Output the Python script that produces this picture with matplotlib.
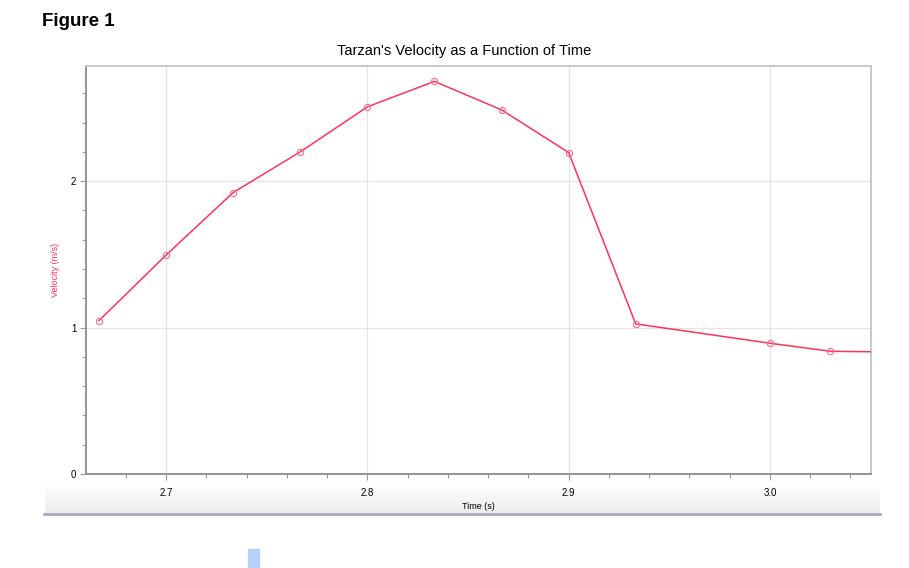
import matplotlib.pyplot as plt
import matplotlib.patches as patches
from matplotlib.lines import Line2D
from matplotlib.colors import LinearSegmentedColormap
from matplotlib.ticker import MultipleLocator
import numpy as np

plt.rcParams['font.family'] = ['Liberation Sans', 'DejaVu Sans']

# Data (time in s, velocity in m/s)
time_s = [2.6667, 2.7, 2.7333, 2.7667, 2.8, 2.8333, 2.8667, 2.9, 2.9333, 3.0, 3.03, 3.0667]
velocity = [1.048, 1.495, 1.922, 2.200, 2.507, 2.681, 2.486, 2.195, 1.025, 0.893, 0.838, 0.832]

x_ticks = [2.7, 2.8, 2.9, 3.0]
x_tick_labels = ["2.7", "2.8", "2.9", "3.0"]
y_ticks = [0, 1, 2]

W, H = 909, 568
fig = plt.figure(figsize=(W / 100, H / 100), dpi=100)
fig.patch.set_facecolor("white")

# Page decoration: heading, light gray band and divider below the chart
fig.text(42 / W, 1 - 22 / H, "Figure 1", fontsize=13.5, fontweight="bold",
         va="center", ha="left")

band = fig.add_axes([45 / W, 1 - 513 / H, (880 - 45) / W, 30 / H], zorder=0)
band_cmap = LinearSegmentedColormap.from_list("band", ["#ffffff", "#ededed"])
grad = np.linspace(0, 1, 50).reshape(-1, 1)
band.imshow(grad, aspect="auto", cmap=band_cmap, extent=[0, 1, 0, 1])
band.set_axis_off()
fig.add_artist(Line2D([44 / W, 880 / W], [1 - 514 / H, 1 - 514 / H],
                      color="#a9a9bf", lw=2, transform=fig.transFigure))
fig.add_artist(patches.Rectangle((248 / W, 0), 11 / W, 19 / H,
                                 color="#b9d1f9", transform=fig.transFigure))

# Chart
ax = fig.add_axes([86 / W, 1 - 474 / H, (871 - 86) / W, (474 - 65.7) / H], zorder=1)
ax.patch.set_alpha(0)
ax.plot(time_s, velocity, color="#ff3358", lw=1.1, zorder=3)
ax.plot(time_s, velocity, ls="none", marker="o", ms=4.5, mfc="none",
        mec="#ff6f88", mew=0.8, zorder=4)

ax.set_xlim(2.6602, 3.0502)
ax.set_ylim(0, 2.788)
ax.set_xticks(x_ticks)
ax.set_xticklabels(x_tick_labels)
ax.set_yticks(y_ticks)
ax.xaxis.set_minor_locator(MultipleLocator(0.02))
ax.yaxis.set_minor_locator(MultipleLocator(0.2))
ax.grid(True, which="major", color="#e4e4e4", lw=0.9)
ax.set_axisbelow(True)

ax.tick_params(axis="x", which="major", labelsize=7, length=4, width=0.8,
               color="#999999", pad=6)
ax.tick_params(axis="y", which="major", labelsize=7, length=4, width=0.8,
               color="#999999", pad=3)
ax.tick_params(axis="both", which="minor", length=3, width=0.8,
               color="#999999")

for side in ["left", "bottom"]:
    ax.spines[side].set_color("#8c8c8c")
    ax.spines[side].set_linewidth(1.3)
for side in ["top", "right"]:
    ax.spines[side].set_color("#c4c4c4")
    ax.spines[side].set_linewidth(1.3)

ax.set_title("Tarzan's Velocity as a Function of Time", fontsize=10.5, pad=8,
             x=0.482)
ax.set_xlabel("Time (s)", fontsize=6.5, labelpad=3)
ax.set_ylabel("Velocity (m/s)", fontsize=6.5, color="#ff3358", labelpad=8)

fig.savefig("out.png", dpi=100)
